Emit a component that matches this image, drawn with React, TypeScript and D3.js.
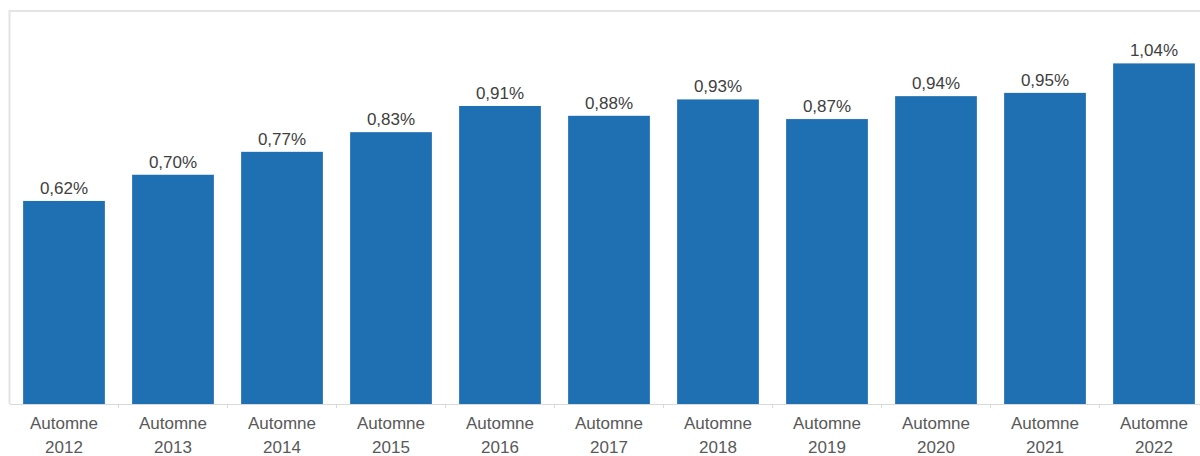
import { useRef, useEffect } from "react";
import * as d3 from "d3";

const years: string[] = ["2012", "2013", "2014", "2015", "2016", "2017", "2018", "2019", "2020", "2021", "2022"];
const values: number[] = [0.62, 0.70, 0.77, 0.83, 0.91, 0.88, 0.93, 0.87, 0.94, 0.95, 1.04];
const valueLabels: string[] = ["0,62%", "0,70%", "0,77%", "0,83%", "0,91%", "0,88%", "0,93%", "0,87%", "0,94%", "0,95%", "1,04%"];

const W = 1200;
const H = 456;
const margin = { top: 11, left: 9.5, bottom: 52 };

export default function App() {
    const svgRef = useRef<SVGSVGElement>(null);

    useEffect(() => {
        const svg = d3.select(svgRef.current as SVGSVGElement);
        svg.selectAll("*").remove();

        const baseY = H - margin.bottom;
        const x = d3.scaleBand<string>()
            .domain(years)
            .range([margin.left, margin.left + 109 * years.length])
            .paddingInner(0.25)
            .paddingOuter(0.125);
        const y = d3.scaleLinear().domain([0, 1.2]).range([baseY, margin.top]);

        // frame (top + left)
        svg.append("path")
            .attr("d", `M${margin.left},${baseY} V${margin.top} H${W}`)
            .attr("fill", "none")
            .attr("stroke", "#e4e4e4")
            .attr("stroke-width", 2);

        // axis
        const gx = svg.append("g")
            .attr("transform", `translate(0,${baseY})`)
            .call(d3.axisBottom(x).tickSize(0).tickFormat(() => ""));
        gx.select(".domain").attr("stroke", "#d9d9d9");

        svg.append("g")
            .selectAll("line")
            .data(years.slice(1))
            .join("line")
            .attr("x1", d => (x(d) as number) - x.step() * x.paddingInner() / 2)
            .attr("x2", d => (x(d) as number) - x.step() * x.paddingInner() / 2)
            .attr("y1", baseY)
            .attr("y2", baseY + 4)
            .attr("stroke", "#d9d9d9");

        svg.append("g")
            .selectAll("rect")
            .data(years)
            .join("rect")
            .attr("x", d => x(d) as number)
            .attr("width", x.bandwidth())
            .attr("y", (d, i) => y(values[i]))
            .attr("height", (d, i) => baseY - y(values[i]))
            .attr("fill", "#1f70b3");

        svg.append("g")
            .selectAll("text")
            .data(years)
            .join("text")
            .attr("x", d => (x(d) as number) + x.bandwidth() / 2)
            .attr("y", (d, i) => y(values[i]) - 7)
            .attr("text-anchor", "middle")
            .attr("font-family", "Liberation Sans, Arial, sans-serif")
            .attr("font-size", 17)
            .attr("fill", "#404040")
            .text((d, i) => valueLabels[i]);

        const cat = svg.append("g")
            .selectAll("text")
            .data(years)
            .join("text")
            .attr("text-anchor", "middle")
            .attr("font-family", "Liberation Sans, Arial, sans-serif")
            .attr("font-size", 17)
            .attr("fill", "#595959")
            .attr("transform", d => `translate(${(x(d) as number) + x.bandwidth() / 2},0)`);
        cat.append("tspan").attr("x", 0).attr("y", baseY + 25).text("Automne");
        cat.append("tspan").attr("x", 0).attr("y", baseY + 49).text(d => d);
    }, []);

    return (
        <svg ref={svgRef} width={W} height={H}
            style={{ position: "absolute", left: 0, top: 0, display: "block", background: "#fff" }} />
    );
}
